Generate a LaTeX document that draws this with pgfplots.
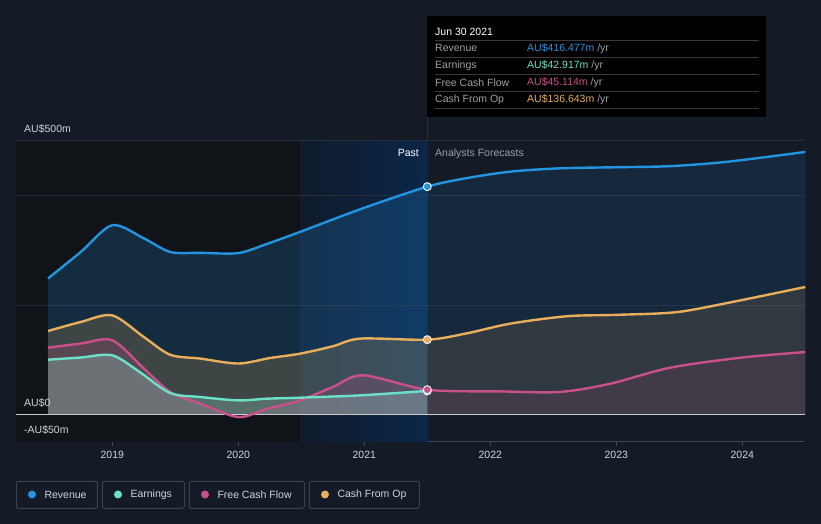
\documentclass[border=0pt]{standalone}
\usepackage{pgfplots}
\pgfplotsset{compat=1.18}
\usepackage{fontspec}
\setmainfont{Liberation Sans}
\definecolor{bg}{HTML}{151B26}
\definecolor{darkreg}{HTML}{101318}
\definecolor{blueL}{HTML}{111B2C}
\definecolor{blueR}{HTML}{0B2649}
\definecolor{gridc}{HTML}{262D3A}
\definecolor{axisc}{HTML}{3F4652}
\definecolor{zeroc}{HTML}{C8CACE}
\definecolor{revc}{HTML}{2394DF}
\definecolor{earnc}{HTML}{6CE0C8}
\definecolor{fcfc}{HTML}{C9508A}
\definecolor{cfoc}{HTML}{E9AE5B}
\definecolor{lblc}{HTML}{9AA0A8}
\definecolor{txtc}{HTML}{D0D4DA}
\definecolor{boxc}{HTML}{3C424D}
\definecolor{vlinec}{HTML}{1D3250}
\definecolor{sepc}{HTML}{3A3A3A}
\newcommand{\fs}{\fontsize{10.5}{12}\selectfont}
\begin{document}
\begin{tikzpicture}[x=1pt,y=1pt]
\useasboundingbox (0,0) rectangle (821,524);
\fill[bg] (0,0) rectangle (821,524);
\begin{axis}[
  at={(16pt,82.3pt)}, anchor=south west, scale only axis,
  width=789.3pt, height=300.7pt,
  xmin=2018.236, xmax=2024.5, ymin=-50, ymax=500,
  hide y axis, axis x line*=bottom,
  x axis line style={draw=axisc, line width=1pt, -},
  xtick={2019,2020,2021,2022,2023,2024},
  xticklabels={2019,2020,2021,2022,2023,2024},
  xticklabel style={font=\fs, text=txtc, yshift=-2pt},
  tick style={draw=axisc, line width=1pt},
  tick align=outside, major tick length=4pt,
]
\fill[darkreg] (axis cs:2018.236,-50) rectangle (axis cs:2020.49,500);
\shade[left color=blueL, right color=blueR] (axis cs:2020.49,-50) rectangle (axis cs:2021.5,500);
\draw[gridc, line width=1pt] (axis cs:2018.236,500) -- (axis cs:2024.5,500);
\draw[gridc, line width=1pt] (axis cs:2018.236,400) -- (axis cs:2024.5,400);
\draw[gridc, line width=1pt] (axis cs:2018.236,200) -- (axis cs:2024.5,200);
% past fills
\addplot[draw=none, fill=revc, fill opacity=0.2, smooth] coordinates {(2018.49,248.5) (2018.75,297) (2019.0,346) (2019.25,322) (2019.46,297) (2019.7,295.5) (2020.0,295) (2020.23,312) (2020.47,332) (2020.99,377) (2021.5,416.5)} \closedcycle;
\addplot[draw=none, fill=cfoc, fill opacity=0.2, smooth] coordinates {(2018.49,152.5) (2018.75,169) (2019.0,181) (2019.25,141.6) (2019.46,109) (2019.7,102) (2020.0,93) (2020.25,103) (2020.49,111) (2020.75,124.5) (2020.97,138.6) (2021.5,136.6)} \closedcycle;
\addplot[draw=none, fill=fcfc, fill opacity=0.2, smooth] coordinates {(2018.49,122) (2018.75,129.5) (2019.0,135.5) (2019.25,84) (2019.46,40.9) (2019.7,19.6) (2020.0,-5) (2020.23,10.4) (2020.49,25.6) (2020.75,50) (2020.99,71.4) (2021.5,45.1)} \closedcycle;
\addplot[draw=none, fill=earnc!60!white, fill opacity=0.25, smooth] coordinates {(2018.49,100) (2018.75,104) (2019.0,108) (2019.22,77) (2019.46,39) (2019.7,31.7) (2020.0,25.6) (2020.23,28.7) (2020.49,30.5) (2020.97,34.8) (2021.5,42.9)} \closedcycle;
% forecast fills
\addplot[draw=none, fill=revc, fill opacity=0.12, smooth] coordinates {(2021.5,416.5) (2021.81,432) (2022.16,444) (2022.55,450) (2023.0,452) (2023.43,454) (2023.88,462) (2024.5,480)} \closedcycle;
\addplot[draw=none, fill=cfoc, fill opacity=0.12, smooth] coordinates {(2021.5,136.6) (2021.81,148) (2022.16,166) (2022.61,179.5) (2023.0,182) (2023.48,187) (2023.93,206) (2024.5,233)} \closedcycle;
\addplot[draw=none, fill=fcfc, fill opacity=0.12, smooth] coordinates {(2021.5,45.1) (2022.08,42) (2022.55,41) (2022.95,56) (2023.43,85.5) (2024.0,104) (2024.5,114)} \closedcycle;
% zero line
\draw[zeroc, line width=1.2pt] (axis cs:2018.236,0) -- (axis cs:2024.5,0);
% lines
\addplot[revc, line width=2.4pt, smooth] coordinates {(2018.49,248.5) (2018.75,297) (2019.0,346) (2019.25,322) (2019.46,297) (2019.7,295.5) (2020.0,295) (2020.23,312) (2020.47,332) (2020.99,377) (2021.5,416.5) (2021.81,432) (2022.16,444) (2022.55,450) (2023.0,452) (2023.43,454) (2023.88,462) (2024.5,480)};
\addplot[cfoc, line width=2.4pt, smooth] coordinates {(2018.49,152.5) (2018.75,169) (2019.0,181) (2019.25,141.6) (2019.46,109) (2019.7,102) (2020.0,93) (2020.25,103) (2020.49,111) (2020.75,124.5) (2020.97,138.6) (2021.5,136.6) (2021.81,148) (2022.16,166) (2022.61,179.5) (2023.0,182) (2023.48,187) (2023.93,206) (2024.5,233)};
\addplot[fcfc, line width=2.4pt, smooth] coordinates {(2018.49,122) (2018.75,129.5) (2019.0,135.5) (2019.25,84) (2019.46,40.9) (2019.7,19.6) (2020.0,-5) (2020.23,10.4) (2020.49,25.6) (2020.75,50) (2020.99,71.4) (2021.5,45.1) (2022.08,42) (2022.55,41) (2022.95,56) (2023.43,85.5) (2024.0,104) (2024.5,114)};
\addplot[earnc, line width=2.4pt, smooth] coordinates {(2018.49,100) (2018.75,104) (2019.0,108) (2019.22,77) (2019.46,39) (2019.7,31.7) (2020.0,25.6) (2020.23,28.7) (2020.49,30.5) (2020.97,34.8) (2021.5,42.9)};
% markers
\addplot[only marks, mark=*, mark size=4pt, mark options={fill=earnc, draw=white!85!gray, line width=1pt}] coordinates {(2021.5,42.9)};
\addplot[only marks, mark=*, mark size=4pt, mark options={fill=fcfc, draw=white!85!gray, line width=1pt}] coordinates {(2021.5,45.1)};
\addplot[only marks, mark=*, mark size=4pt, mark options={fill=cfoc, draw=white!85!gray, line width=1pt}] coordinates {(2021.5,136.6)};
\addplot[only marks, mark=*, mark size=4pt, mark options={fill=revc, draw=white!85!gray, line width=1pt}] coordinates {(2021.5,416.5)};
\end{axis}
% faint line from tooltip
\draw[vlinec, line width=1pt] (427,407.3) -- (427,383);
% y labels
\node[anchor=west, text=txtc, font=\fs, inner sep=0] at (24,395) {AU\$500m};
\node[anchor=west, text=txtc, font=\fs, inner sep=0] at (24,121.5) {AU\$0};
\node[anchor=west, text=txtc, font=\fs, inner sep=0] at (24,94.5) {-AU\$50m};
% Past / forecasts
\node[anchor=east, text=white, font=\fs, inner sep=0] at (419,370.7) {Past};
\node[anchor=west, text=lblc, font=\fs, inner sep=0] at (435,370.7) {Analysts Forecasts};
% tooltip
\fill[black] (427,407.3) rectangle (766,508);
\foreach \yy in {483.3,466.7,449.7,432.3,415.3} {\draw[sepc, line width=0.8pt] (435,\yy) -- (758.7,\yy);}
\node[anchor=west, text=white, font=\fs, inner sep=0] at (435,492.3) {Jun 30 2021};
\node[anchor=west, text=lblc, font=\fs, inner sep=0] at (435,475.7) {Revenue};
\node[anchor=west, text=lblc, font=\fs, inner sep=0] at (435,458.7) {Earnings};
\node[anchor=west, text=lblc, font=\fs, inner sep=0] at (435,441.7) {Free Cash Flow};
\node[anchor=west, text=lblc, font=\fs, inner sep=0] at (435,424.7) {Cash From Op};
\node[anchor=west, font=\fs, inner sep=0] at (527,475.7) {\textcolor{revc}{AU\$416.477m} \textcolor{lblc}{/yr}};
\node[anchor=west, font=\fs, inner sep=0] at (527,458.7) {\textcolor{earnc}{AU\$42.917m} \textcolor{lblc}{/yr}};
\node[anchor=west, font=\fs, inner sep=0] at (527,441.7) {\textcolor{fcfc}{AU\$45.114m} \textcolor{lblc}{/yr}};
\node[anchor=west, font=\fs, inner sep=0] at (527,424.7) {\textcolor{cfoc}{AU\$136.643m} \textcolor{lblc}{/yr}};
% legend
\foreach \xa/\xb/\col/\lab in {16.3/97.3/revc/Revenue, 102.3/184.3/earnc/Earnings, 189.3/304.3/fcfc/Free Cash Flow, 309.3/419.3/cfoc/Cash From Op} {
  \draw[boxc, line width=1pt, rounded corners=2pt] (\xa,15.7) rectangle (\xb,42.7);
  \fill[\col] (\xa+15.7,29.5) circle (4);
  \node[anchor=west, text=txtc, font=\fs, inner sep=0] at (\xa+28,29.5) {\lab};
}
\end{tikzpicture}
\end{document}
